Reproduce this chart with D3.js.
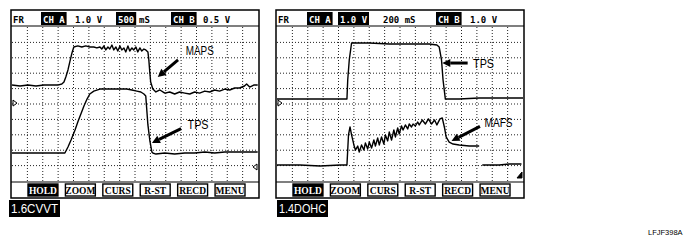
<!DOCTYPE html>
<html>
<head>
<meta charset="utf-8">
<script src="https://cdn.jsdelivr.net/npm/d3@7"></script>
<style>
  body { margin: 0; background: #fff; }
  svg { display: block; }
</style>
</head>
<body>
<div id="container"></div>
<script>
//-----------------------------[data]------------------------------//
// traces: [time in s, level in divisions from the bottom of the screen]
const leftMaps = [
  [0,6.23],[0.26,6.17],[0.52,6.23],[0.78,6.17],[1.04,6.23],[1.30,6.23],[1.49,6.23],[1.62,6.30],
  [1.69,6.43],[1.75,6.75],[1.82,7.21],[1.88,7.73],[1.95,8.31],[2.01,8.70],[2.14,8.77],[2.27,8.70],
  [2.40,8.77],[2.53,8.70],[2.66,8.70],[2.76,8.64],[2.86,8.70],[2.92,8.57],[2.99,8.77],[3.05,8.51],
  [3.12,8.70],[3.18,8.57],[3.25,8.83],[3.31,8.51],[3.38,8.70],[3.44,8.44],[3.51,8.77],[3.57,8.51],
  [3.64,8.64],[3.70,8.38],[3.77,8.77],[3.83,8.44],[3.90,8.64],[3.96,8.51],[4.03,8.70],[4.09,8.38],
  [4.16,8.64],[4.22,8.44],[4.29,8.57],[4.35,8.51],[4.42,8.38],[4.45,7.86],[4.48,7.08],[4.51,6.43],
  [4.58,5.97],[4.68,5.78],[4.81,5.91],[4.97,5.71],[5.13,5.78],[5.29,5.65],[5.45,5.78],[5.62,5.71],
  [5.78,5.65],[5.94,5.78],[6.10,5.71],[6.27,5.84],[6.43,5.78],[6.59,5.91],[6.75,5.84],[6.92,5.97],
  [7.08,5.91],[7.24,6.04],[7.40,6.04],[7.56,6.17],[7.63,6.30],[7.73,6.10],[7.86,6.23],[7.99,6.23]
];
const leftTps = [
  [0,1.82],[0.58,1.82],[1.23,1.82],[1.72,1.82],[1.82,2.21],[1.92,2.66],[2.05,3.31],[2.14,3.83],
  [2.24,4.35],[2.34,4.87],[2.44,5.32],[2.53,5.65],[2.66,5.84],[2.86,5.97],[3.18,5.97],[3.51,5.97],
  [3.73,5.97],[3.90,5.91],[4.06,5.84],[4.19,5.78],[4.29,5.65],[4.35,5.52],[4.42,3.64],[4.48,2.66],
  [4.55,1.88],[4.58,1.82],[4.68,1.75],[4.97,1.82],[5.29,1.75],[5.62,1.82],[5.94,1.82],[6.27,1.88],
  [6.59,1.82],[6.92,1.88],[7.24,1.88],[7.56,1.88],[7.99,1.88]
];
const rightTps = [
  [0,5.32],[0.30,5.32],[0.56,5.32],[0.82,5.32],[0.91,5.32],[0.92,6.56],[0.94,7.86],[0.97,8.96],
  [1.20,8.96],[1.46,8.90],[1.72,8.90],[1.98,8.90],[2.08,8.83],[2.11,8.70],[2.14,7.86],[2.16,6.56],
  [2.19,5.32],[2.37,5.32],[2.63,5.39],[2.89,5.39],[3.20,5.39]
];
const rightMafs = [
  [0,1.04],[0.30,1.04],[0.56,0.97],[0.82,1.04],[0.91,1.04],[0.92,2.01],[0.93,2.99],[0.95,3.51],
  [0.97,2.99],[1.00,2.34],[1.02,2.01],[1.05,2.27],[1.07,1.88],[1.10,2.34],[1.13,2.01],[1.15,2.47],
  [1.18,2.08],[1.20,2.53],[1.23,2.14],[1.26,2.66],[1.28,2.27],[1.31,2.79],[1.33,2.34],[1.36,2.86],
  [1.39,2.40],[1.41,2.99],[1.44,2.60],[1.46,3.18],[1.49,2.66],[1.52,3.31],[1.54,2.86],[1.57,3.44],
  [1.59,3.05],[1.62,3.57],[1.64,3.31],[1.67,3.64],[1.70,3.38],[1.72,3.70],[1.75,3.51],[1.77,3.70],
  [1.80,3.57],[1.83,3.83],[1.85,3.64],[1.89,3.96],[1.93,3.70],[1.97,4.03],[2.01,3.70],[2.05,3.96],
  [2.08,3.64],[2.12,4.03],[2.15,4.09],[2.18,3.44],[2.20,2.86],[2.24,2.53],[2.29,2.40],[2.37,2.34],
  [2.50,2.27],[2.63,2.27],[2.65,null],[2.67,1.04],[2.89,1.04],[3.02,1.10],[3.18,1.10]
];

// header readouts (hi = shown inverted)
const leftHeader = [
  {text: "FR"}, {text: "CH A", hi: true}, {text: "1.0 V"}, {text: "500", hi: true},
  {text: "mS"}, {text: "CH B", hi: true}, {text: "0.5 V"}
];
const rightHeader = [
  {text: "FR"}, {text: "CH A", hi: true}, {text: "1.0 V", hi: true}, {text: "200 mS"},
  {text: "CH B", hi: true}, {text: "1.0 V"}
];
const buttons = ["HOLD", "ZOOM", "CURS", "R-ST", "RECD", "MENU"];

// arrows: label position, arrow tail and tip, in trace units
const leftNotes = [
  {text: "MAPS", t: 5.65, d: 8.18, tailT: 5.40, tailD: 7.86, tipT: 4.74, tipD: 6.75},
  {text: "TPS", t: 5.71, d: 3.40, tailT: 5.50, tailD: 3.40, tipT: 4.55, tipD: 2.47}
];
const rightNotes = [
  {text: "TPS", t: 2.55, d: 7.34, tailT: 2.48, tailD: 7.66, tipT: 2.15, tipD: 7.66},
  {text: "MAFS", t: 2.70, d: 3.50, tailT: 2.64, tailD: 3.55, tipT: 2.27, tipD: 2.60}
];

// channel level markers at the screen edges
const leftMarkers = [{side: "left", level: 5.06}, {side: "right", level: 0.91}];
const rightMarkers = [{side: "left", level: 5.06}, {side: "rightFill", level: 0.26}];

//-----------------------------[prep]SVG------------------------------//
const width = 690;
const height = 249;

const svg = d3.select("#container").append("svg")
  .attr("width", width)
  .attr("height", height);

const mono = "'DejaVu Sans Mono', 'Liberation Mono', monospace";
const sans = "'Liberation Sans', Arial, sans-serif";

// screen geometry (local to each screen group)
const frameW = 248, frameH = 188;
const plotL = 1, plotR = 247, plotT = 17, plotB = 171;
const divs = 16, rows = 10;

function drawScope(cfg) {
  const g = svg.append("g").attr("transform", "translate(" + cfg.x + ",10)");

  const xScale = d3.scaleLinear().domain([0, divs * cfg.tdiv]).range([plotL, plotR]);
  const yScale = d3.scaleLinear().domain([0, rows]).range([plotB, plotT]);

  // grid
  g.append("g").selectAll("line")
    .data(d3.range(1, divs))
    .enter().append("line")
    .attr("x1", k => xScale(k * cfg.tdiv)).attr("x2", k => xScale(k * cfg.tdiv))
    .attr("y1", plotT).attr("y2", plotB)
    .attr("stroke", "#222").attr("stroke-width", 1).attr("stroke-dasharray", "1,2");

  g.append("g").selectAll("line")
    .data(d3.range(1, rows))
    .enter().append("line")
    .attr("y1", k => yScale(k)).attr("y2", k => yScale(k))
    .attr("x1", plotL).attr("x2", plotR)
    .attr("stroke", "#222").attr("stroke-width", 1).attr("stroke-dasharray", "1,2");

  // traces
  const line = d3.line()
    .defined(d => d[1] != null)
    .x(d => xScale(d[0]))
    .y(d => yScale(d[1]));

  g.append("g").selectAll("path")
    .data(cfg.traces)
    .enter().append("path")
    .attr("d", d => line(d))
    .attr("fill", "none")
    .attr("stroke", "#000")
    .attr("stroke-width", 1.4)
    .attr("stroke-linejoin", "round");

  // level markers
  g.append("g").selectAll("path")
    .data(cfg.markers)
    .enter().append("path")
    .attr("d", m => {
      const y = yScale(m.level);
      if (m.side === "left") return "M" + (plotL + 1) + "," + (y - 3) + "L" + (plotL + 5) + "," + y + "L" + (plotL + 1) + "," + (y + 3) + "Z";
      if (m.side === "right") return "M" + (plotR - 1) + "," + (y - 3) + "L" + (plotR - 5) + "," + y + "L" + (plotR - 1) + "," + (y + 3) + "Z";
      return "M" + (plotR - 1) + "," + (y - 5) + "L" + (plotR - 1) + "," + (y + 1) + "L" + (plotR - 6) + "," + (y + 1) + "Z";
    })
    .attr("fill", m => m.side === "rightFill" ? "#000" : "#fff")
    .attr("stroke", "#000")
    .attr("stroke-width", 1);

  // frame, header rule and button bar rule
  g.append("rect")
    .attr("x", 0).attr("y", 0).attr("width", frameW).attr("height", frameH)
    .attr("fill", "none").attr("stroke", "#000").attr("stroke-width", 1.5);
  g.append("line")
    .attr("x1", 0).attr("x2", frameW).attr("y1", 16).attr("y2", 16)
    .attr("stroke", "#000").attr("stroke-width", 1.2);
  g.append("line")
    .attr("x1", 0).attr("x2", frameW).attr("y1", 172).attr("y2", 172)
    .attr("stroke", "#000").attr("stroke-width", 1.2);

  // header readouts
  const head = g.append("g").selectAll("g")
    .data(cfg.header)
    .enter().append("g")
    .attr("transform", (d, i) => "translate(" + cfg.headerX[i] + ",0)");

  head.filter(d => d.hi).append("rect")
    .attr("x", -2).attr("y", 2).attr("height", 13)
    .attr("width", d => d.text.length * 5.4 + 4)
    .attr("fill", "#000");

  head.append("text")
    .text(d => d.text)
    .attr("y", 12.5)
    .attr("font-family", mono).attr("font-weight", "bold").attr("font-size", 9)
    .attr("fill", d => d.hi ? "#fff" : "#000");

  // soft buttons
  const band = d3.scaleBand().domain(buttons).range([17, 234]).paddingInner(0.2).paddingOuter(0);
  const btn = g.append("g").selectAll("g")
    .data(buttons)
    .enter().append("g")
    .attr("transform", b => "translate(" + band(b) + ",174)");

  btn.append("rect")
    .attr("width", band.bandwidth()).attr("height", 12)
    .attr("fill", (b, i) => i === 0 ? "#000" : "#fff")
    .attr("stroke", "#000").attr("stroke-width", 1.4);

  btn.append("text")
    .text(b => b)
    .attr("x", band.bandwidth() / 2).attr("y", 9.5)
    .attr("text-anchor", "middle")
    .attr("font-family", "'Liberation Serif', 'DejaVu Serif', serif")
    .attr("font-weight", "bold").attr("font-size", 9.5)
    .attr("fill", (b, i) => i === 0 ? "#fff" : "#000");

  // annotations with arrows
  const notes = g.append("g").selectAll("g")
    .data(cfg.notes)
    .enter().append("g");

  notes.append("text")
    .text(n => n.text)
    .attr("x", n => xScale(n.t)).attr("y", n => yScale(n.d))
    .attr("font-family", sans).attr("font-size", 12)
    .attr("textLength", n => n.text.length * 7)
    .attr("lengthAdjust", "spacingAndGlyphs");

  const arrowGeom = n => {
    const x1 = xScale(n.tailT), y1 = yScale(n.tailD);
    const x2 = xScale(n.tipT), y2 = yScale(n.tipD);
    const a = Math.atan2(y2 - y1, x2 - x1);
    const hl = 8, hw = 4;
    const bx = x2 - hl * Math.cos(a), by = y2 - hl * Math.sin(a);
    const px = -Math.sin(a) * hw, py = Math.cos(a) * hw;
    return {x1, y1, x2, y2, bx, by, px, py};
  };

  notes.append("path")
    .attr("d", n => {
      const p = arrowGeom(n);
      return "M" + p.x1 + "," + p.y1 + "L" + p.bx + "," + p.by;
    })
    .attr("stroke", "#000").attr("stroke-width", 3).attr("fill", "none");

  notes.append("path")
    .attr("d", n => {
      const p = arrowGeom(n);
      return "M" + p.x2 + "," + p.y2 + "L" + (p.bx + p.px) + "," + (p.by + p.py) +
        "L" + (p.bx - p.px) + "," + (p.by - p.py) + "Z";
    })
    .attr("fill", "#000");

  // engine label below the screen
  const lab = svg.append("g").attr("transform", "translate(" + (cfg.x + cfg.labelDx) + ",200)");
  lab.append("rect").attr("width", 51).attr("height", 17).attr("fill", "#000");
  lab.append("text")
    .text(cfg.label)
    .attr("x", 2).attr("y", 13)
    .attr("font-family", sans).attr("font-size", 12.5)
    .attr("textLength", 47).attr("lengthAdjust", "spacingAndGlyphs")
    .attr("fill", "#fff");
}

//-----------------------------[drawing]------------------------------//
drawScope({
  x: 11, tdiv: 0.5,
  traces: [leftMaps, leftTps],
  header: leftHeader, headerX: [2, 32, 64, 107, 128, 162, 192],
  notes: leftNotes, markers: leftMarkers,
  label: "1.6CVVT", labelDx: -2
});

drawScope({
  x: 276, tdiv: 0.2,
  traces: [rightTps, rightMafs],
  header: rightHeader, headerX: [2, 33, 64, 107, 162, 194],
  notes: rightNotes, markers: rightMarkers,
  label: "1.4DOHC", labelDx: 1
});

svg.append("text")
  .text("LFJF398A")
  .attr("x", 648).attr("y", 235)
  .attr("font-family", sans).attr("font-size", 7.5)
  .attr("fill", "#000");
</script>
</body>
</html>
